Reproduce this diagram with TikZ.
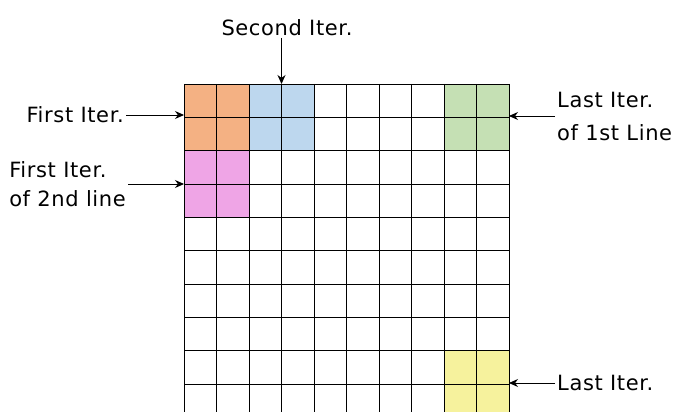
\documentclass[tikz,border=0pt]{standalone}
\usepackage{fontspec}
\setmainfont[LetterSpace=3]{DejaVu Sans}
\usetikzlibrary{arrows.meta}
\definecolor{corange}{HTML}{F4B183}
\definecolor{cblue}{HTML}{BDD7EE}
\definecolor{cgreen}{HTML}{C5E0B4}
\definecolor{cpink}{HTML}{EFA5E6}
\definecolor{cyellow}{HTML}{F6F29D}
\tikzset{
  block/.style={draw=none, inner sep=0pt, outer sep=0pt, minimum width=65pt, minimum height=66.67pt},
  gl/.style={line width=0.9pt, black},
  lbl/.style={inner sep=2pt, font=\fontsize{21}{29}\selectfont},
  arr/.style={line width=0.9pt, -{Stealth[length=9pt,width=8pt]}}
}
\begin{document}
\begin{tikzpicture}[x=1pt,y=-1pt]
\clip (0,0) rectangle (675,412);
\node[block, fill=corange] (b1) at (216.5,117.33) {};
\node[block, fill=cblue] (b2) at (281.5,117.33) {};
\node[block, fill=cgreen] (b3) at (476.5,117.33) {};
\node[block, fill=cpink] (b4) at (216.5,184) {};
\node[block, fill=cyellow] (b5) at (476.5,384) {};
\foreach \i in {0,...,10} \draw[gl] ({184+32.5*\i},84) -- ({184+32.5*\i},418);
\foreach \j in {0,...,10} \draw[gl] (184,{84+33.333*\j}) -- (509,{84+33.333*\j});
\node[lbl, anchor=east] (l1) at (126,115) {First Iter.};
\node[lbl, anchor=east, align=left] (l2) at (128,184) {First Iter.\\of 2nd line};
\node[lbl, anchor=south] (l3) at (287,38) {Second Iter.};
\node[lbl, anchor=west, align=left, font=\fontsize{21}{33}\selectfont] (l4) at (555,116) {Last Iter.\\of 1st Line};
\node[lbl, anchor=west] (l5) at (555,383) {Last Iter.};
\draw[arr] (l1.east) -- (l1.east -| b1.west);
\draw[arr] (l2.east) -- (l2.east -| b4.west);
\draw[arr] (l3.south -| b2.north) -- (b2.north);
\draw[arr] (l4.west) -- (l4.west -| b3.east);
\draw[arr] (l5.west) -- (l5.west -| b5.east);
\end{tikzpicture}
\end{document}
